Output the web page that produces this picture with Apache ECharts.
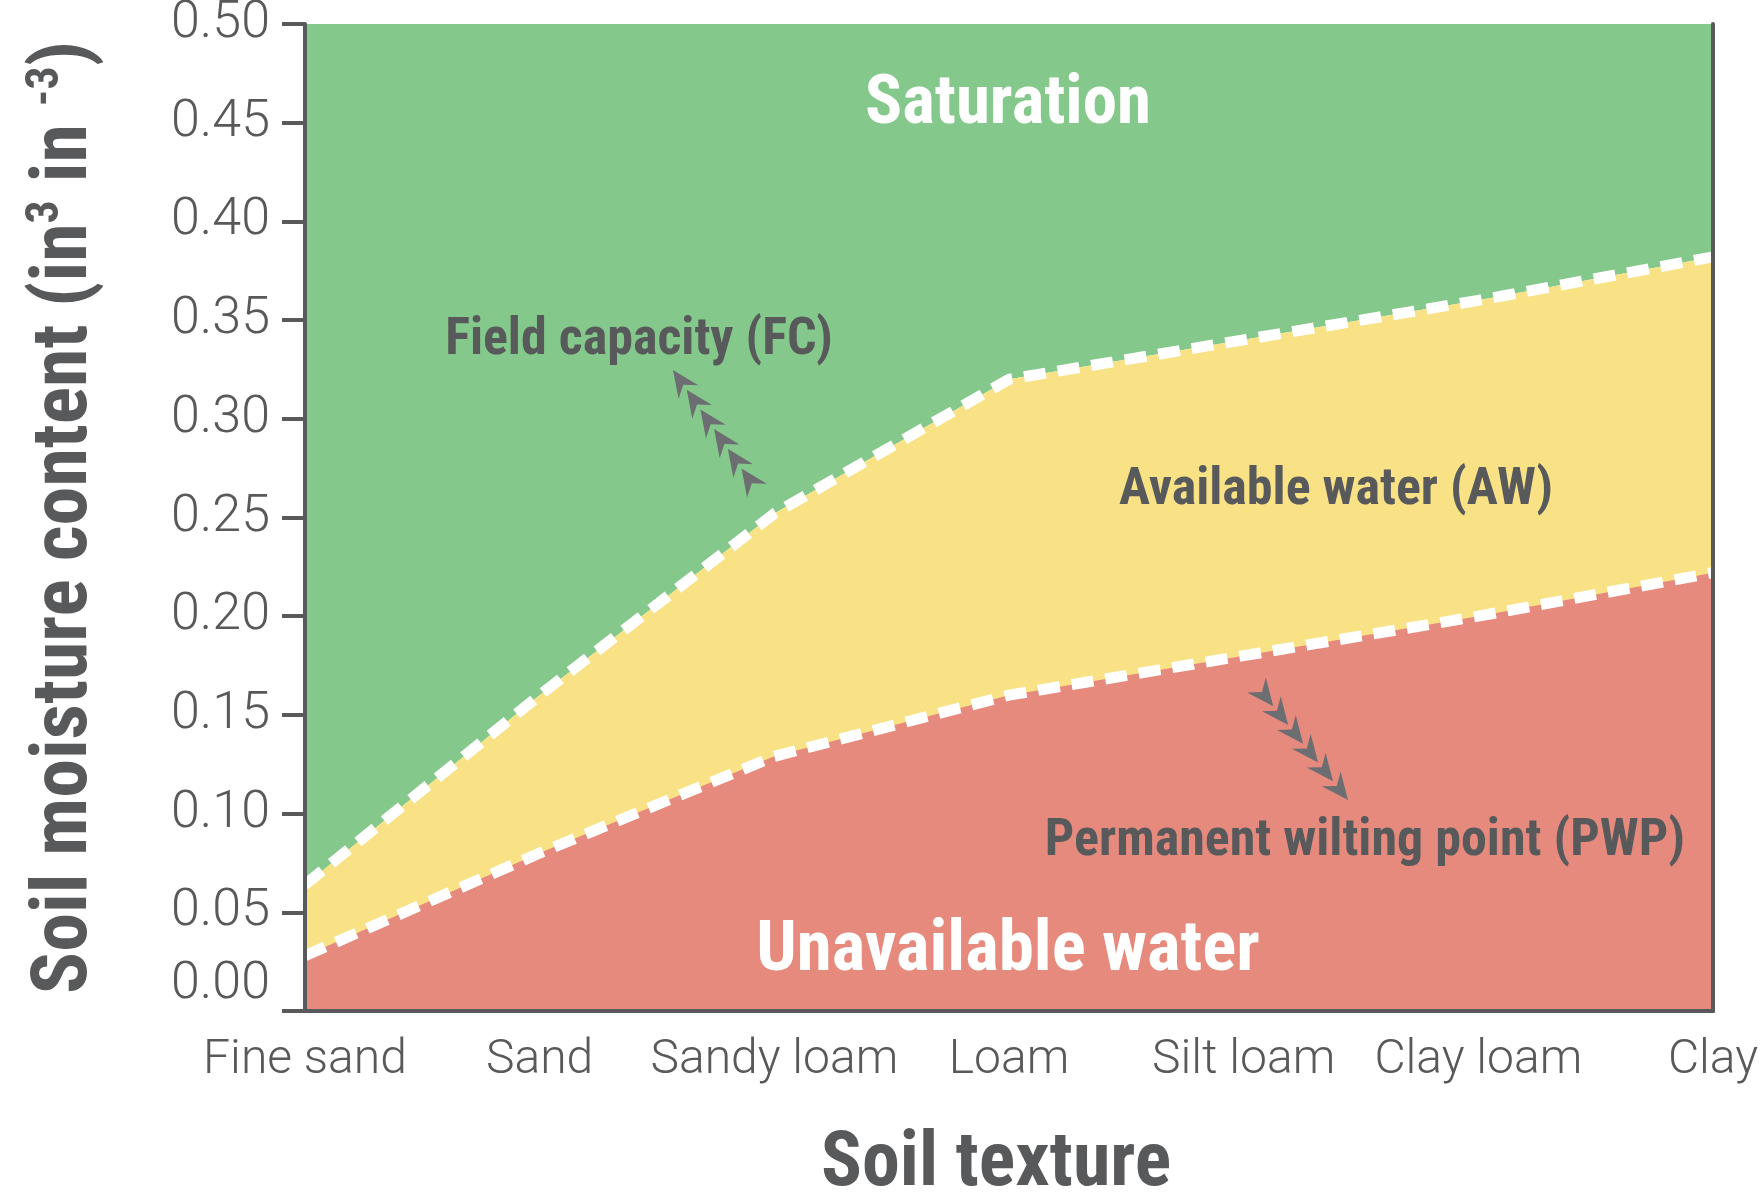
<!DOCTYPE html>
<html>
<head>
<meta charset="utf-8">
<script src="https://cdn.jsdelivr.net/npm/echarts@6/dist/echarts.min.js"></script>
<style>
html,body{margin:0;padding:0;background:#fff;}
#chart{width:1761px;height:1192px;}
</style>
</head>
<body>
<div id="chart"></div>
<script>
// ---- data ----
var categories = ['Fine sand', 'Sand', 'Sandy loam', 'Loam', 'Silt loam', 'Clay loam', 'Clay'];
var fieldCapacity = [0.064, 0.160, 0.252, 0.320, 0.340, 0.360, 0.382];
var wiltingPoint = [0.028, 0.080, 0.129, 0.160, 0.180, 0.200, 0.222];
var yMin = 0, yMax = 0.5, yStep = 0.05;

var GREEN = '#84C98B', YELLOW = '#F9E286', RED = '#E68A7E';
var TXT = '#58595B', ARROW = '#6D6E71';
var BOLD = "'Liberation Sans Narrow', 'Roboto Condensed', 'DejaVu Sans Condensed', sans-serif";
var LIGHT = "Roboto, 'Liberation Sans', sans-serif";

var chart = echarts.init(document.getElementById('chart'));

function arrows(tx, ty, dx, dy, n, step) {
  var out = [];
  var L = 27, W = 12, notch = 9;
  for (var k = 0; k < n; k++) {
    var Tx = tx - dx * step * k, Ty = ty - dy * step * k;
    var Bx = Tx - dx * L, By = Ty - dy * L;
    var px = -dy, py = dx;
    var Nx = Tx - dx * (L - notch), Ny = Ty - dy * (L - notch);
    out.push({
      type: 'polygon', z: 100,
      shape: { points: [[Tx, Ty], [Bx + W * px, By + W * py], [Nx, Ny], [Bx - W * px, By - W * py]] },
      style: { fill: ARROW }
    });
  }
  return out;
}
function label(text, x, y, size, color) {
  return {
    type: 'text', z: 100, x: x, y: y,
    style: {
      text: text, fill: color, fontSize: size, fontWeight: 'bold', fontFamily: BOLD,
      align: 'center', verticalAlign: 'middle', textAlign: 'center', textVerticalAlign: 'middle'
    }
  };
}

var graphics = []
  .concat(arrows(673, 370, -0.571, -0.821, 6, 24))
  .concat(arrows(1348, 800, 0.623, 0.782, 6, 24))
  .concat([
    label('Saturation', 1008, 106, 69, '#FFFFFF'),
    label('Field capacity (FC)', 639, 341, 52, TXT),
    label('Available water (AW)', 1336, 491, 52, TXT),
    label('Permanent wilting point (PWP)', 1365, 842, 52, TXT),
    label('Unavailable water', 1008, 952, 71, '#FFFFFF')
  ]);

var axisLineStyle = { color: TXT, width: 4 };

chart.setOption({
  animation: false,
  grid: { left: 305, right: 48, top: 24, bottom: 181, containLabel: false, outerBoundsMode: 'none' },
  xAxis: [{
    type: 'category', data: categories, boundaryGap: false, z: 10,
    axisLine: { lineStyle: axisLineStyle },
    axisTick: { show: false },
    axisLabel: { color: TXT, fontSize: 48, fontFamily: LIGHT, fontWeight: 300, margin: 26, interval: 0 },
    splitLine: { show: false },
    name: 'Soil texture', nameLocation: 'middle', nameGap: 117,
    nameTextStyle: { color: TXT, fontSize: 76, fontWeight: 'bold', fontFamily: BOLD, padding: [0, 26, 0, 0] }
  }, {
    type: 'category', data: categories, boundaryGap: false, position: 'top', z: 10,
    axisLine: { lineStyle: axisLineStyle }, axisTick: { show: false }, axisLabel: { show: false }
  }],
  yAxis: [{
    type: 'value', min: yMin, max: yMax, interval: yStep, z: 10,
    axisLine: { show: true, lineStyle: axisLineStyle },
    axisTick: { show: true, inside: false, length: 23, lineStyle: { color: TXT, width: 4 } },
    axisLabel: { color: TXT, fontSize: 52, fontFamily: LIGHT, fontWeight: 300, margin: 35,
      verticalAlignMinLabel: 'bottom',
      formatter: function (v) { return v.toFixed(2); } },
    splitLine: { show: false },
    name: '{t|Soil moisture content (in}{s|3}{t| in }{s|-3}{t|)}',
    nameLocation: 'middle', nameRotate: 90, nameGap: 196,
    nameTextStyle: {
      rich: {
        t: { color: TXT, fontSize: 78, fontWeight: 'bold', fontFamily: BOLD, lineHeight: 86 },
        s: { color: TXT, fontSize: 46, fontWeight: 'bold', fontFamily: BOLD, lineHeight: 46, verticalAlign: 'top' }
      }
    }
  }, {
    type: 'value', min: yMin, max: yMax, interval: yStep, position: 'right', z: 10,
    axisLine: { show: true, lineStyle: axisLineStyle },
    axisTick: { show: false }, axisLabel: { show: false }, splitLine: { show: false }
  }],
  series: [{
    name: 'Saturation', type: 'line', data: fieldCapacity, symbol: 'none',
    lineStyle: { width: 0 }, areaStyle: { origin: 'end', color: GREEN, opacity: 1 }, z: 2
  }, {
    name: 'Field capacity', type: 'line', data: fieldCapacity, symbol: 'none',
    lineStyle: { color: '#FFFFFF', width: 11, type: [22, 12] },
    areaStyle: { origin: 'start', color: YELLOW, opacity: 1 }, z: 3
  }, {
    name: 'Permanent wilting point', type: 'line', data: wiltingPoint, symbol: 'none',
    lineStyle: { color: '#FFFFFF', width: 11, type: [22, 12] },
    areaStyle: { origin: 'start', color: RED, opacity: 1 }, z: 4
  }],
  graphic: graphics
});
</script>
</body>
</html>
